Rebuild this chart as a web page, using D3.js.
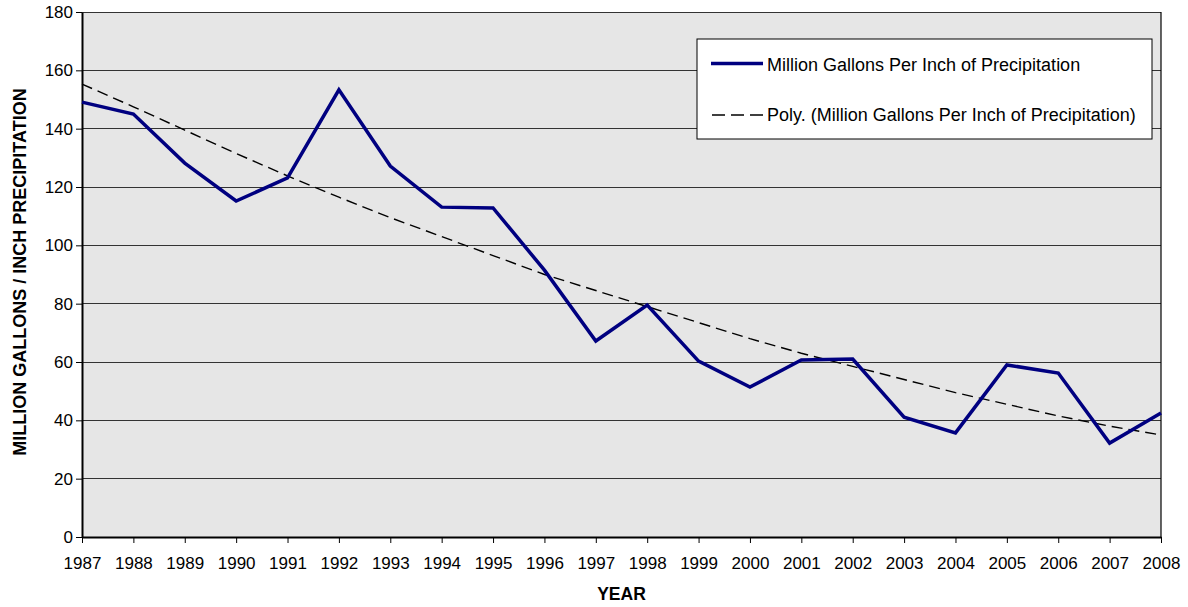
<!DOCTYPE html>
<html><head><meta charset="utf-8">
<script src="https://cdn.jsdelivr.net/npm/d3@7"></script>
<style>body{margin:0;background:#fff;}svg{display:block;font-family:"Liberation Sans",Arial,sans-serif;}</style>
</head><body>
<svg id="c" width="1188" height="607"></svg>
<script>
const years = [1987,1988,1989,1990,1991,1992,1993,1994,1995,1996,1997,1998,1999,2000,2001,2002,2003,2004,2005,2006,2007,2008];
const gallonsPerInch = [149.1,145,128.2,115.2,123.1,153.3,127.2,113.1,112.8,91.5,67.2,79.5,60.3,51.4,60.7,61,41.1,35.7,59,56.2,32.2,42.5];
const polyTrend = [155.3,147.5,139.5,131.5,123.8,116.5,109.5,103,96.5,90,84.5,79,73.5,68,63,58.5,54,49.5,45.5,41.5,38,35];
const yTicks = [0,20,40,60,80,100,120,140,160,180];
const seriesName = "Million Gallons Per Inch of Precipitation";
const trendName = "Poly. (Million Gallons Per Inch of Precipitation)";

const svg = d3.select("#c");
const L=82,R=1161,T=12,B=537;
const x = d3.scaleLinear().domain([1987,2008]).range([L,R]);
const y = d3.scaleLinear().domain([0,180]).range([B,T]);

svg.append("rect").attr("x",L).attr("y",T).attr("width",R-L).attr("height",B-T).attr("fill","#e6e6e6");

svg.append("g").selectAll("line").data(yTicks.filter(d=>d>0)).join("line")
  .attr("x1",L).attr("x2",R).attr("y1",d=>y(d)).attr("y2",d=>y(d))
  .attr("stroke","#333").attr("stroke-width",1).attr("shape-rendering","crispEdges");
svg.append("line").attr("x1",R).attr("x2",R).attr("y1",T).attr("y2",B).attr("stroke","#000").attr("stroke-width",1.2);

const yAxis = svg.append("g").attr("transform",`translate(${L},0)`)
  .call(d3.axisLeft(y).tickValues(yTicks).tickSize(6).tickSizeOuter(0).tickPadding(3));
const xAxis = svg.append("g").attr("transform",`translate(0,${B})`)
  .call(d3.axisBottom(x).tickValues(years).tickFormat(d3.format("d")).tickSize(6).tickSizeOuter(0).tickPadding(14));
[yAxis,xAxis].forEach(a=>{
  a.select(".domain").attr("stroke","#000").attr("stroke-width",2);
  a.selectAll(".tick line").attr("stroke","#000").attr("stroke-width",1);
  a.selectAll("text").attr("font-size",17).attr("fill","#000").attr("font-family","'Liberation Sans',Arial,sans-serif");
});

const line = d3.line().x((d,i)=>x(years[i])).y(d=>y(d));
svg.append("path").datum(polyTrend).attr("d",line).attr("fill","none")
  .attr("stroke","#000").attr("stroke-width",1.4).attr("stroke-dasharray","11,6");
svg.append("path").datum(gallonsPerInch).attr("d",line).attr("fill","none")
  .attr("stroke","#000080").attr("stroke-width",3.5).attr("stroke-linejoin","miter");

// legend
const lg = svg.append("g");
lg.append("rect").attr("x",697).attr("y",39).attr("width",455).attr("height",100)
  .attr("fill","#fff").attr("stroke","#000").attr("stroke-width",1);
lg.append("line").attr("x1",711).attr("x2",763).attr("y1",63.5).attr("y2",63.5).attr("stroke","#000080").attr("stroke-width",3.5);
lg.append("line").attr("x1",712).attr("x2",763).attr("y1",115).attr("y2",115).attr("stroke","#000").attr("stroke-width",1.6).attr("stroke-dasharray","13,6");
lg.append("text").attr("x",767).attr("y",71).attr("font-size",18).text(seriesName);
lg.append("text").attr("x",767).attr("y",121).attr("font-size",18).text(trendName);

svg.append("text").attr("x",(L+R)/2).attr("y",600).attr("text-anchor","middle")
  .attr("font-size",17.5).attr("font-weight","bold").text("YEAR");
svg.append("text").attr("transform",`translate(26,272) rotate(-90)`).attr("text-anchor","middle")
  .attr("font-size",18).attr("font-weight","bold").text("MILLION GALLONS / INCH PRECIPITATION");
</script>
</body></html>
